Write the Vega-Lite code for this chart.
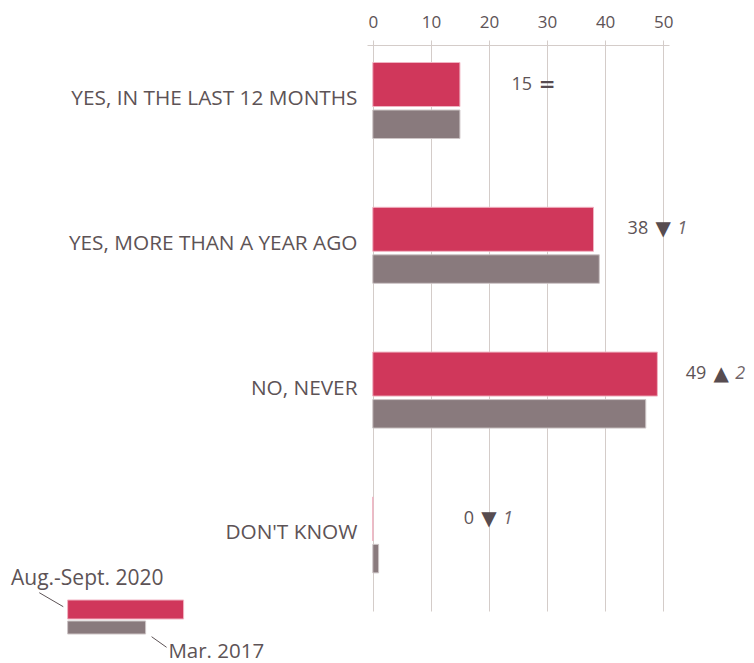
{
  "$schema": "https://vega.github.io/schema/vega-lite/v6.json",
  "background": "white",
  "padding": {"left": 10, "top": 13, "right": 4, "bottom": 0},
  "config": {"view": {"stroke": null}, "font": "Open Sans"},
  "datasets": {
    "bars": [
      {"category": "YES, IN THE LAST 12 MONTHS", "series": "2020", "value": 15},
      {"category": "YES, MORE THAN A YEAR AGO", "series": "2020", "value": 38},
      {"category": "NO, NEVER", "series": "2020", "value": 49},
      {"category": "DON'T KNOW", "series": "2020", "value": 0},
      {"category": "YES, IN THE LAST 12 MONTHS", "series": "2017", "value": 15},
      {"category": "YES, MORE THAN A YEAR AGO", "series": "2017", "value": 39},
      {"category": "NO, NEVER", "series": "2017", "value": 47},
      {"category": "DON'T KNOW", "series": "2017", "value": 1}
    ],
    "notes": [
      {"category": "YES, IN THE LAST 12 MONTHS", "shown": 15, "symbol": "=", "change": "", "at": 30},
      {"category": "YES, MORE THAN A YEAR AGO", "shown": 38, "symbol": "▼", "change": "1", "at": 50},
      {"category": "NO, NEVER", "shown": 49, "symbol": "▲", "change": "2", "at": 60},
      {"category": "DON'T KNOW", "shown": 0, "symbol": "▼", "change": "1", "at": 20}
    ],
    "legend": [
      {"series": "2020", "label": "Aug.-Sept. 2020", "start": -52.55, "end": -32.58, "labelAt": -62.3, "leadFrom": -57.43, "leadTo": -53.3},
      {"series": "2017", "label": "Mar. 2017", "start": -52.55, "end": -39.12, "labelAt": -35.2, "leadFrom": -38.09, "leadTo": -35.51}
    ]
  },
  "spacing": 0,
  "bounds": "flush",
  "resolve": {"scale": {"x": "shared", "y": "independent"}},
  "vconcat": [
    {
      "width": 302,
      "height": 566,
      "encoding": {
        "y": {
          "field": "category", "type": "nominal", "title": null,
          "scale": {"type": "band", "domain": ["YES, IN THE LAST 12 MONTHS", "YES, MORE THAN A YEAR AGO", "NO, NEVER", "DON'T KNOW"], "paddingInner": 0.3, "paddingOuter": 0.1045, "align": 0.176, "round": false},
          "axis": {"ticks": false, "domain": false, "labelFont": "Open Sans", "labelFontSize": 20.8, "labelColor": "#5d5356", "labelPadding": 10, "labelLimit": 400, "labelOffset": -2}
        }
      },
      "layer": [
        {
          "data": {"name": "bars"},
          "transform": [{"filter": "datum.series === '2020'"}],
          "mark": {"type": "bar", "height": 44, "yOffset": -16.5, "color": "#d0375b", "stroke": "#f0b3c2", "strokeWidth": 1},
          "encoding": {
            "x": {"field": "value", "type": "quantitative", "title": null,
              "scale": {"domain": [-1, 51], "nice": false},
              "axis": {"orient": "top", "values": [0, 10, 20, 30, 40, 50], "grid": true, "gridColor": "#d4ccc9", "domainColor": "#d4ccc9", "tickColor": "#d4ccc9", "tickSize": 5, "labelFont": "Open Sans", "labelFontSize": 17, "labelColor": "#5d5356", "labelPadding": 13, "labelBaseline": "alphabetic", "labelFlush": false, "title": null}},
            "x2": {"datum": 0}
          }
        },
        {
          "data": {"name": "bars"},
          "transform": [{"filter": "datum.series === '2017'"}],
          "mark": {"type": "bar", "height": 28.5, "yOffset": 23.25, "color": "#897a7d", "stroke": "#cdc5c6", "strokeWidth": 1},
          "encoding": {
            "x": {"field": "value", "type": "quantitative", "title": null, "scale": {"domain": [-1, 51], "nice": false}},
            "x2": {"datum": 0}
          }
        },
        {
          "data": {"name": "notes"},
          "mark": {"type": "text", "align": "right", "baseline": "middle", "dx": -15, "dy": -16.5, "font": "Open Sans", "fontSize": 18, "color": "#5d5356"},
          "encoding": {
            "x": {"field": "at", "type": "quantitative", "title": null, "scale": {"domain": [-1, 51], "nice": false}},
            "text": {"field": "shown", "type": "quantitative"}
          }
        },
        {
          "data": {"name": "notes"},
          "mark": {"type": "text", "align": "center", "baseline": "middle", "dy": -16.5, "font": "DejaVu Sans", "fontWeight": "bold", "fontSize": 20, "color": "#574c50"},
          "encoding": {
            "x": {"field": "at", "type": "quantitative", "title": null, "scale": {"domain": [-1, 51], "nice": false}},
            "text": {"field": "symbol", "type": "nominal"}
          }
        },
        {
          "data": {"name": "notes"},
          "transform": [{"filter": "datum.change !== ''"}],
          "mark": {"type": "text", "align": "left", "baseline": "middle", "dx": 14, "dy": -16.5, "font": "Open Sans", "fontStyle": "italic", "fontSize": 18, "color": "#6f6468"},
          "encoding": {
            "x": {"field": "at", "type": "quantitative", "title": null, "scale": {"domain": [-1, 51], "nice": false}},
            "text": {"field": "change", "type": "nominal"}
          }
        }
      ]
    },
    {
      "width": 302,
      "height": 34,
      "data": {"name": "legend"},
      "encoding": {
        "y": {"field": "series", "type": "nominal", "title": null, "axis": null,
          "scale": {"type": "band", "domain": ["2020", "2017"], "paddingInner": 0, "paddingOuter": 0, "round": false}}
      },
      "layer": [
        {
          "transform": [{"filter": "datum.series === '2020'"}],
          "mark": {"type": "bar", "height": 19, "yOffset": -10, "color": "#d0375b", "stroke": "#f0b3c2", "strokeWidth": 1},
          "encoding": {
            "x": {"field": "start", "type": "quantitative", "title": null, "axis": null, "scale": {"domain": [-1, 51], "nice": false}},
            "x2": {"field": "end"}
          }
        },
        {
          "transform": [{"filter": "datum.series === '2017'"}],
          "mark": {"type": "bar", "height": 13, "yOffset": -9, "color": "#897a7d", "stroke": "#cdc5c6", "strokeWidth": 1},
          "encoding": {
            "x": {"field": "start", "type": "quantitative", "title": null, "axis": null, "scale": {"domain": [-1, 51], "nice": false}},
            "x2": {"field": "end"}
          }
        },
        {
          "transform": [{"filter": "datum.series === '2020'"}],
          "mark": {"type": "text", "align": "left", "baseline": "alphabetic", "dy": -34.5, "font": "Open Sans", "fontSize": 21, "color": "#5d5356"},
          "encoding": {
            "x": {"field": "labelAt", "type": "quantitative", "title": null, "axis": null, "scale": {"domain": [-1, 51], "nice": false}},
            "text": {"field": "label", "type": "nominal"}
          }
        },
        {
          "transform": [{"filter": "datum.series === '2017'"}],
          "mark": {"type": "text", "align": "left", "baseline": "alphabetic", "dy": 21.5, "font": "Open Sans", "fontSize": 20.5, "color": "#5d5356"},
          "encoding": {
            "x": {"field": "labelAt", "type": "quantitative", "title": null, "axis": null, "scale": {"domain": [-1, 51], "nice": false}},
            "text": {"field": "label", "type": "nominal"}
          }
        },
        {
          "transform": [{"filter": "datum.series === '2020'"}],
          "mark": {"type": "rule", "yOffset": -26.8, "y2Offset": -12.8, "color": "#5d5356", "strokeWidth": 1},
          "encoding": {
            "x": {"field": "leadFrom", "type": "quantitative", "title": null, "axis": null, "scale": {"domain": [-1, 51], "nice": false}},
            "x2": {"field": "leadTo"},
            "y2": {"field": "series"}
          }
        },
        {
          "transform": [{"filter": "datum.series === '2017'"}],
          "mark": {"type": "rule", "yOffset": 0.2, "y2Offset": 10.8, "color": "#5d5356", "strokeWidth": 1},
          "encoding": {
            "x": {"field": "leadFrom", "type": "quantitative", "title": null, "axis": null, "scale": {"domain": [-1, 51], "nice": false}},
            "x2": {"field": "leadTo"},
            "y2": {"field": "series"}
          }
        }
      ]
    }
  ]
}
